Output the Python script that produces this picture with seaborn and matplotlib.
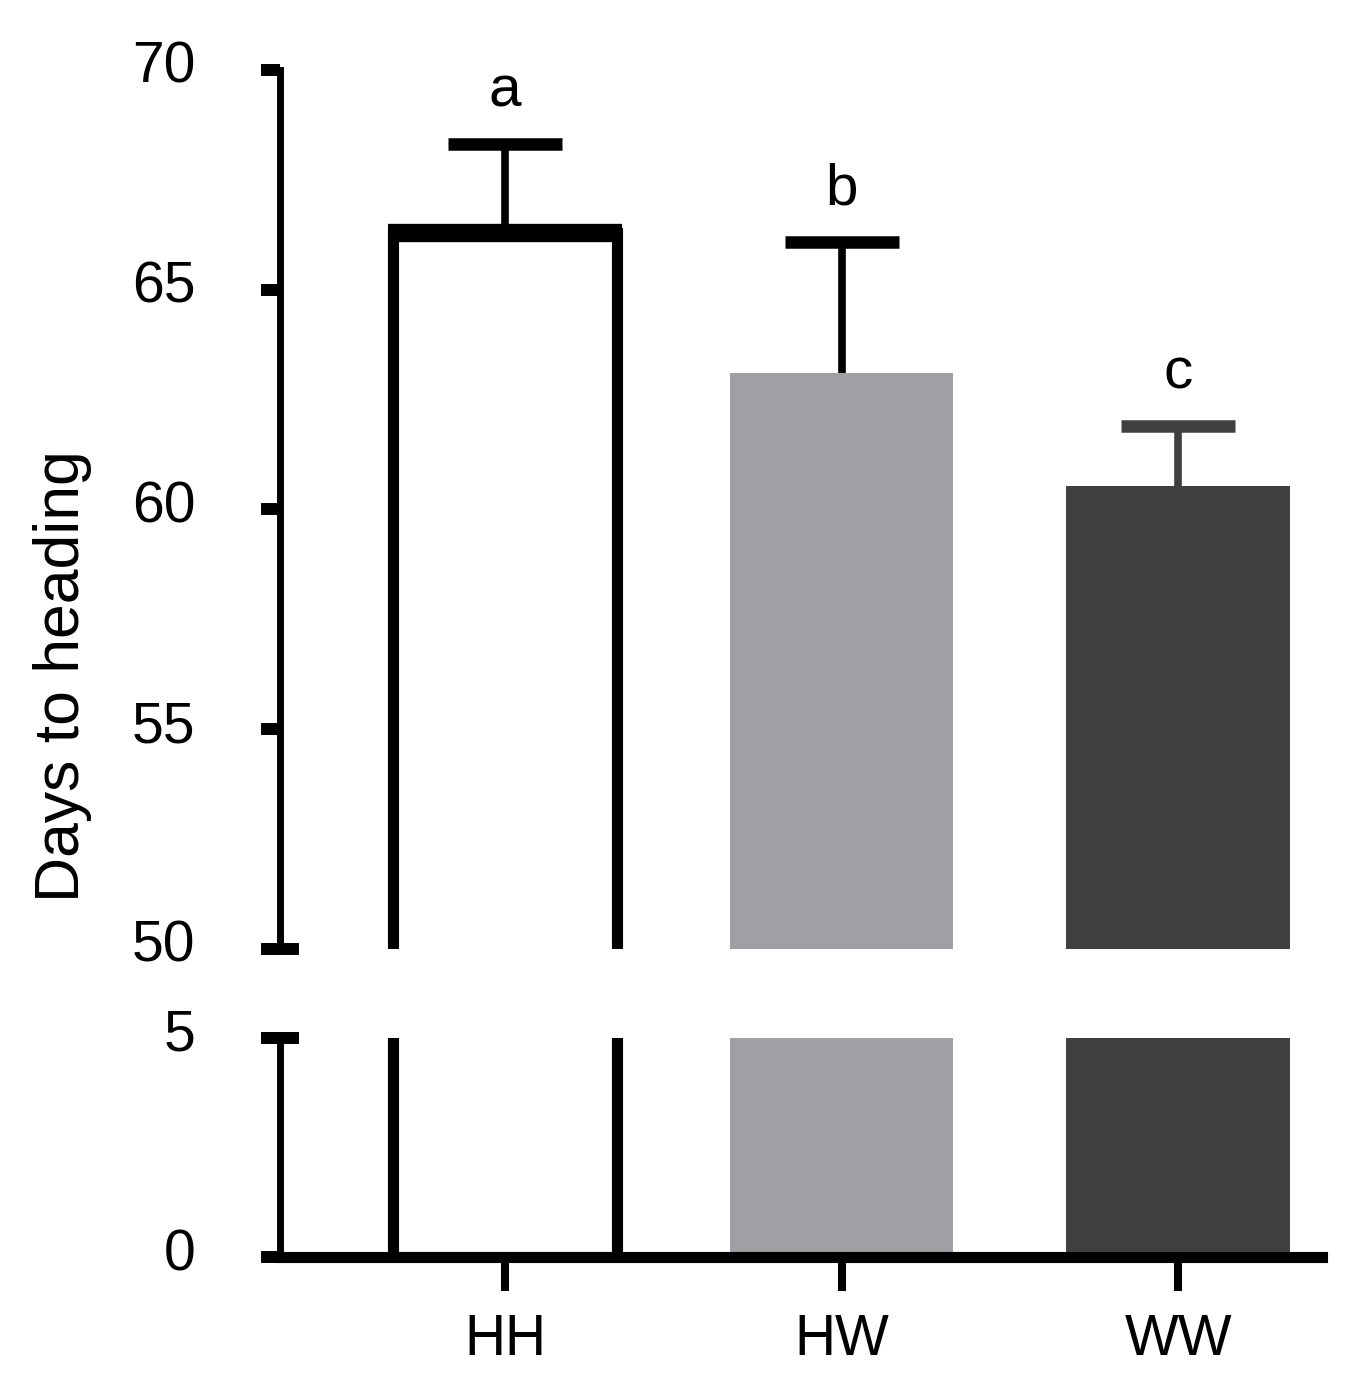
import matplotlib
matplotlib.use("Agg")
import matplotlib.pyplot as plt
import matplotlib.transforms as mtransforms
import seaborn as sns
import pandas as pd
import numpy as np

# ---- data ----
groups = ["HH", "HW", "WW"]
means = [66.28, 63.10, 60.54]
err_up = [2.03, 2.99, 1.35]
letters = ["a", "b", "c"]
bar_colors = ["#FFFFFF", "#A09FA4", "#404040"]
err_colors = ["#000000", "#000000", "#404040"]
top_ticks = [50, 55, 60, 65, 70]
bottom_ticks = [0, 5]
ylabel = "Days to heading"

sns.set_style("ticks")
plt.rcParams["font.family"] = ["Liberation Sans", "DejaVu Sans"]

df = pd.DataFrame({"group": groups, "value": means})

fig = plt.figure(figsize=(13.53, 13.89), dpi=100)
ax_top = fig.add_axes([0.2069, 0.3168, 0.7702, 0.6330])
ax_bot = fig.add_axes([0.2069, 0.0950, 0.7702, 0.1577])

for ax in (ax_top, ax_bot):
    sns.barplot(data=df, x="group", y="value", hue="group", palette=bar_colors,
                width=0.663, ax=ax, legend=False, saturation=1, linewidth=0)
    for i, p in enumerate(ax.patches):
        if i == 0:
            p.set_edgecolor("black")
            p.set_linewidth(8)
        else:
            p.set_linewidth(0)
    ax.set_xlim(-0.669, 2.428)
    ax.set_xlabel("")
    ax.set_ylabel("")
    ax.set_facecolor("white")
    for s in ("top", "right"):
        ax.spines[s].set_visible(False)
    ax.spines["left"].set_linewidth(5)
    ax.spines["left"].set_color("black")
    ax.tick_params(axis="y", direction="out", length=14, width=8.6,
                   labelsize=41, pad=47, colors="black")

# top panel
ax_top.set_ylim(50, 70)
ax_top.set_yticks(top_ticks)
ax_top.spines["bottom"].set_visible(False)
ax_top.tick_params(axis="x", bottom=False, labelbottom=False)

# thicker top edge of the outlined bar
p0 = ax_top.patches[0]
ext = 0.0163
ax_top.plot([p0.get_x() - ext, p0.get_x() + p0.get_width() + ext],
            [p0.get_height(), p0.get_height()], color="black", lw=13.2,
            solid_capstyle="butt", zorder=4)

x_pos = np.arange(len(groups))
for i in range(len(groups)):
    _, caps, _ = ax_top.errorbar(x_pos[i], means[i], yerr=[[0], [err_up[i]]],
                                 fmt="none", ecolor=err_colors[i], elinewidth=5.5,
                                 capsize=40.7, capthick=9, zorder=5)
    for c in caps:
        if np.isclose(np.asarray(c.get_ydata(), dtype=float)[0], means[i]):
            c.set_visible(False)
    ax_top.text(x_pos[i], means[i] + err_up[i] + 0.85, letters[i],
                ha="center", va="baseline", fontsize=42, color="black")

# break markers
ax_top.plot([-0.0173, 0.0182], [50, 50], transform=ax_top.get_yaxis_transform(),
            color="black", lw=8.6, clip_on=False, solid_capstyle="butt")

# bottom panel
ax_bot.set_ylim(0, 5)
ax_bot.set_yticks(bottom_ticks)
ax_bot.plot([-0.0173, 0.0182], [5, 5], transform=ax_bot.get_yaxis_transform(),
            color="black", lw=8.6, clip_on=False, solid_capstyle="butt")
ax_bot.spines["bottom"].set_linewidth(8)
ax_bot.spines["bottom"].set_color("black")
ax_bot.set_xticks(x_pos)
ax_bot.set_xticklabels(groups)
ax_bot.tick_params(axis="x", direction="out", length=24.5, width=5.8,
                   labelsize=41, pad=16, colors="black")

# nudge y tick labels slightly upward
shift = mtransforms.ScaledTranslation(0, 8 / 100, fig.dpi_scale_trans)
for ax in (ax_top, ax_bot):
    for lab in ax.get_yticklabels():
        lab.set_transform(lab.get_transform() + shift)

fig.text(0.046, 0.5133, ylabel, rotation=90, ha="center", va="center",
         fontsize=45, color="black")

fig.savefig("out.png", dpi=100, facecolor="white")
